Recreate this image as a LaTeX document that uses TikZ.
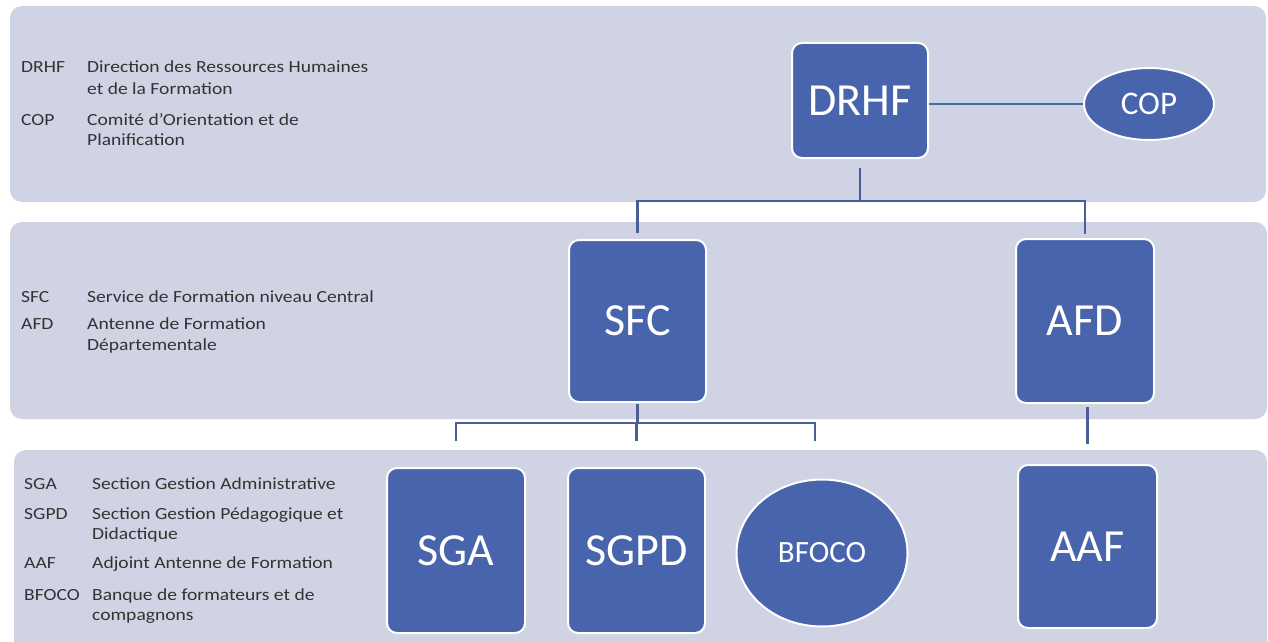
\documentclass[tikz,border=0pt]{standalone}
\usepackage{fontspec}
\setmainfont{Carlito}
\newfontfamily\legfont[FakeStretch=1.15]{Carlito}
\usetikzlibrary{shapes.geometric}
\definecolor{panel}{HTML}{D0D3E3}
\definecolor{boxblue}{HTML}{4864AC}
\definecolor{linkblue}{HTML}{4A5F96}
\definecolor{copline}{HTML}{3A6FA6}
\definecolor{legtext}{HTML}{333333}
\begin{document}
\begin{tikzpicture}[x=1pt,y=-1pt,
  panelbox/.style={fill=panel, rounded corners=12pt},
  unitbox/.style={draw=white, line width=2pt, fill=boxblue, rounded corners=10pt,
    text=white, font=\fontsize{46}{50}\selectfont, inner sep=0pt},
  ovalbox/.style={ellipse, draw=white, line width=2pt, fill=boxblue, text=white, inner sep=0pt},
  link/.style={draw=linkblue, line width=2.6pt},
  leg/.style={anchor=base west, font=\legfont\fontsize{17}{20}\selectfont, text=legtext, inner sep=0pt}]

\useasboundingbox (0,0) rectangle (1268,642);
\begin{scope}
\clip (0,0) rectangle (1268,642);
\fill[white] (0,0) rectangle (1268,642);
\fill[panelbox] (10,6) rectangle (1266,202);
\fill[panelbox] (10,222) rectangle (1267,419);
\fill[panelbox] (14,450) rectangle (1267,670);
\end{scope}

% legend, panel 1
\node[leg] (l1a) at (21,73) {DRHF};
\node[leg] (l1b) at (87,73) {Direction des Ressources Humaines};
\node[leg] (l1c) at (87,94) {et de la Formation};
\node[leg] (l1d) at (21,125) {COP};
\node[leg] (l1e) at (87,125) {Comité d’Orientation et de};
\node[leg] (l1f) at (87,145) {Planification};
% legend, panel 2
\node[leg] (l2a) at (21,302) {SFC};
\node[leg] (l2b) at (87,302) {Service de Formation niveau Central};
\node[leg] (l2c) at (21,329) {AFD};
\node[leg] (l2d) at (87,329) {Antenne de Formation};
\node[leg] (l2e) at (87,350) {Départementale};
% legend, panel 3
\node[leg] (l3a) at (24,489) {SGA};
\node[leg] (l3b) at (92,489) {Section Gestion Administrative};
\node[leg] (l3c) at (24,519) {SGPD};
\node[leg] (l3d) at (92,519) {Section Gestion Pédagogique et};
\node[leg] (l3e) at (92,539) {Didactique};
\node[leg] (l3f) at (24,568) {AAF};
\node[leg] (l3g) at (92,568) {Adjoint Antenne de Formation};
\node[leg] (l3h) at (24,600) {BFOCO};
\node[leg] (l3i) at (92,600) {Banque de formateurs et de};
\node[leg] (l3j) at (92,620) {compagnons};

% units
\node[unitbox, minimum width=136pt, minimum height=115pt] (DRHF) at (860,100.5) {DRHF};
\node[ovalbox, minimum width=130pt, minimum height=72pt, font=\fontsize{33}{36}\selectfont] (COP) at (1149,104) {COP};
\node[unitbox, minimum width=137pt, minimum height=162pt] (SFC) at (637.5,321) {SFC};
\node[unitbox, minimum width=138pt, minimum height=164pt] (AFD) at (1085,321) {AFD};
\node[unitbox, minimum width=138pt, minimum height=165pt] (SGA) at (456,550.5) {SGA};
\node[unitbox, minimum width=137pt, minimum height=165pt] (SGPD) at (636.5,550.5) {SGPD};
\node[ovalbox, minimum width=171pt, minimum height=147pt, font=\fontsize{31}{34}\selectfont] (BFOCO) at (822,553) {BFOCO};
\node[unitbox, minimum width=139pt, minimum height=163pt] (AAF) at (1087.5,546.5) {AAF};

% connectors
\coordinate (bus) at (0,201);
\coordinate (bus2) at (0,423);
\coordinate (stub) at (0,441);
\coordinate (bfx) at ([xshift=-7pt]BFOCO.north);
\draw[draw=copline, line width=2.6pt] (DRHF.east |- COP.west) -- (COP.west);
\draw[link] (DRHF.south) ++(0,9) -- (DRHF.south |- bus);
\draw[link] (SFC.north) ++(0,-6) |- (AFD.north |- bus) -- ++(0,33);
\draw[link] (SFC.south) ++(0,1) -- (SFC.south |- bus2);
\draw[link] (SGA.north |- stub) |- (bfx |- bus2) -- (bfx |- stub);
\draw[link] (SGPD.north |- bus2) -- (SGPD.north |- stub);
\draw[link] (AAF.north |- AFD.south) ++(0,3) -- ++(0,37);
\end{tikzpicture}
\end{document}
